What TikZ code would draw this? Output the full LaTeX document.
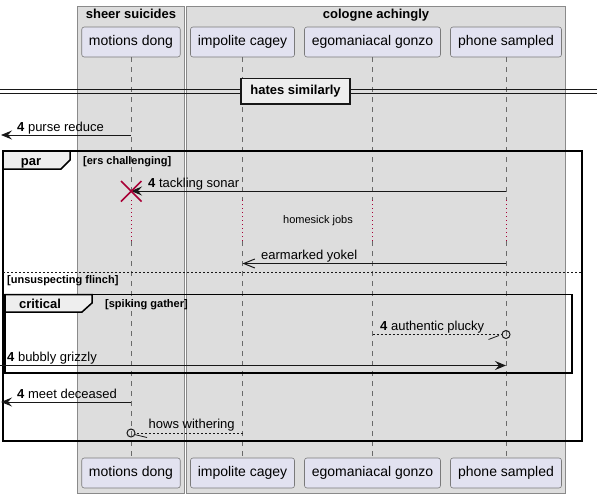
\documentclass[tikz,border=0pt]{standalone}
\usepackage{fontspec}
\setmainfont{Liberation Sans}
\usetikzlibrary{arrows.meta}
\definecolor{boxbg}{HTML}{DDDDDD}
\definecolor{boxline}{HTML}{8A8A8A}
\definecolor{partfill}{HTML}{E2E2F0}
\definecolor{partline}{HTML}{7A7A7A}
\definecolor{lifec}{HTML}{6A6A6A}
\definecolor{crim}{HTML}{A80036}
\definecolor{tabfill}{HTML}{EEEEEE}
\definecolor{ink}{HTML}{181818}
\begin{document}
\begin{tikzpicture}[x=1pt,y=-1pt,
  grpbox/.style={draw=boxline,fill=boxbg,line width=0.8pt},
  grptitle/.style={font=\fontsize{13}{15}\selectfont\bfseries,anchor=base},
  part/.style={draw=partline,fill=partfill,rounded corners=2.5pt,minimum height=30pt,inner sep=0pt,line width=0.6pt,font=\fontsize{14}{16}\selectfont},
  lifeline/.style={draw=lifec,line width=0.6pt,dash pattern=on 5pt off 5pt},
  delayline/.style={draw=crim,line width=0.9pt,dash pattern=on 1pt off 3pt},
  lbl/.style={font=\fontsize{13}{15}\selectfont,inner sep=0pt,anchor=base west},
  small/.style={font=\fontsize{11}{13}\selectfont,inner sep=0pt},
  smallbold/.style={font=\fontsize{11}{13}\selectfont\bfseries,inner sep=0pt,anchor=base west},
  msg/.style={draw=ink,line width=1pt},
  filledtip/.style={msg,-{Stealth[length=11pt,width=9pt,inset=4pt]}},
  opentip/.style={msg,-{Straight Barb[length=11pt,width=9pt]}},
  dotmsg/.style={msg,dash pattern=on 2pt off 2pt},
  frame/.style={draw=black,line width=1.5pt},
  tab/.style={draw=black,fill=tabfill,line width=1.5pt},
  ringend/.style={circle,draw=ink,line width=1pt,minimum size=8pt,inner sep=0pt}
]
\useasboundingbox (0,0) rectangle (597,498);
% group boxes
\draw[grpbox] (77,6) rectangle (184,493);
\draw[grpbox] (186,6) rectangle (565,493);
\node[grptitle] (g1) at (131,18) {sheer suicides};
\node[grptitle] (g2) at (376,18) {cologne achingly};
% participants
\node[part,minimum width=98.5pt] (mdT) at (131,42) {motions dong};
\node[part,minimum width=104pt] (icT) at (242.5,42) {impolite cagey};
\node[part,minimum width=136pt] (egT) at (372.5,42) {egomaniacal gonzo};
\node[part,minimum width=111pt] (psT) at (506,42) {phone sampled};
\node[part,minimum width=98.5pt] (mdB) at (131,473) {motions dong};
\node[part,minimum width=104pt] (icB) at (242.5,473) {impolite cagey};
\node[part,minimum width=136pt] (egB) at (372.5,473) {egomaniacal gonzo};
\node[part,minimum width=111pt] (psB) at (506,473) {phone sampled};
% y levels
\coordinate (yX) at (0,191);
\coordinate (yD1) at (0,200);
\coordinate (yD2) at (0,241);
% lifelines
\draw[lifeline] (mdT.south) -- (mdT.south |- yX);
\foreach \p in {icT,egT,psT}{\draw[lifeline] (\p.south) -- (\p.south |- yD1);}
\foreach \p in {mdT,icT,egT,psT}{\draw[delayline] (\p.south |- yD1) -- (\p.south |- yD2);}
\draw[lifeline] (mdT.south |- yD2) -- (mdB.north);
\draw[lifeline] (icT.south |- yD2) -- (icB.north);
\draw[lifeline] (egT.south |- yD2) -- (egB.north);
\draw[lifeline] (psT.south |- yD2) -- (psB.north);
% divider
\draw[ink,line width=1pt] (0,89.5) -- (597,89.5);
\draw[ink,line width=1pt] (0,93.5) -- (597,93.5);
\node[draw=ink,fill=tabfill,line width=1.8pt,minimum width=109pt,minimum height=25.5pt,inner sep=0pt,font=\fontsize{13}{15}\selectfont\bfseries] (div) at (295.5,91.3) {hates similarly};
% message 1
\coordinate (m1a) at (131,135);
\coordinate (m1b) at (1,135);
\draw[filledtip] (m1a) -- (m1b);
\node[lbl] (l1) at (17,131) {\textbf{4} purse reduce};
% par frame
\draw[frame] (3,151) rectangle (582,441);
\draw[tab] (3,151) -- (70,151) -- (70,160) -- (61,169) -- (3,169) -- cycle;
\node[font=\fontsize{13}{15}\selectfont\bfseries,anchor=base] (parl) at (31,165) {par};
\node[smallbold] (g1l) at (83,164) {[ers challenging]};
% tackling sonar
\coordinate (m2a) at (506,191);
\coordinate (m2b) at (131,191);
\draw[filledtip] (m2a) -- (m2b);
\draw[crim,line width=1.6pt] (121,181) -- (141.5,201.5) (121,201.5) -- (141.5,181);
\node[lbl] (l2) at (148,187) {\textbf{4} tackling sonar};
\node[small] (delay) at (318,221) {homesick jobs};
% earmarked yokel
\coordinate (m3a) at (506,263.5);
\coordinate (m3b) at (242.5,263.5);
\draw[opentip] (m3a) -- (m3b);
\node[lbl] (l3) at (261,259.5) {earmarked yokel};
% else
\draw[ink,line width=0.8pt,dash pattern=on 2pt off 2pt] (3,272.5) -- (582,272.5);
\node[smallbold] (g2l) at (7,283.5) {[unsuspecting flinch]};
% critical frame
\draw[frame] (5,294.5) rectangle (572,373);
\draw[tab] (5,294.5) -- (92,294.5) -- (92,303) -- (82,312) -- (5,312) -- cycle;
\node[font=\fontsize{13}{15}\selectfont\bfseries,anchor=base] (critl) at (40,308.5) {critical};
\node[smallbold] (g3l) at (105,307) {[spiking gather]};
% authentic plucky
\node[ringend] (r1) at (506,334.5) {};
\coordinate (m4a) at (372.5,334.5);
\draw[dotmsg] (m4a) -- (r1.west);
\coordinate (h1a) at (488.5,339.5);
\coordinate (h1b) at (499,335.5);
\draw[msg,line width=0.8pt] (h1a) -- (h1b);
\node[lbl] (l4) at (380,330.5) {\textbf{4} authentic plucky};
% bubbly grizzly
\coordinate (m5a) at (0,365.5);
\coordinate (m5b) at (506,365.5);
\draw[filledtip] (m5a) -- (m5b);
\node[lbl] (l5) at (7,361) {\textbf{4} bubbly grizzly};
% meet deceased
\coordinate (m6a) at (131,402);
\coordinate (m6b) at (1,402);
\draw[filledtip] (m6a) -- (m6b);
\node[lbl] (l6) at (17,398) {\textbf{4} meet deceased};
% hows withering
\node[ringend] (r2) at (131,433) {};
\coordinate (m7a) at (242.5,433);
\draw[dotmsg] (m7a) -- (r2.east);
\coordinate (h2a) at (134.5,434.5);
\coordinate (h2b) at (147,437.5);
\draw[msg,line width=0.8pt] (h2a) -- (h2b);
\node[lbl] (l7) at (148.5,428.5) {hows withering};
\end{tikzpicture}
\end{document}
